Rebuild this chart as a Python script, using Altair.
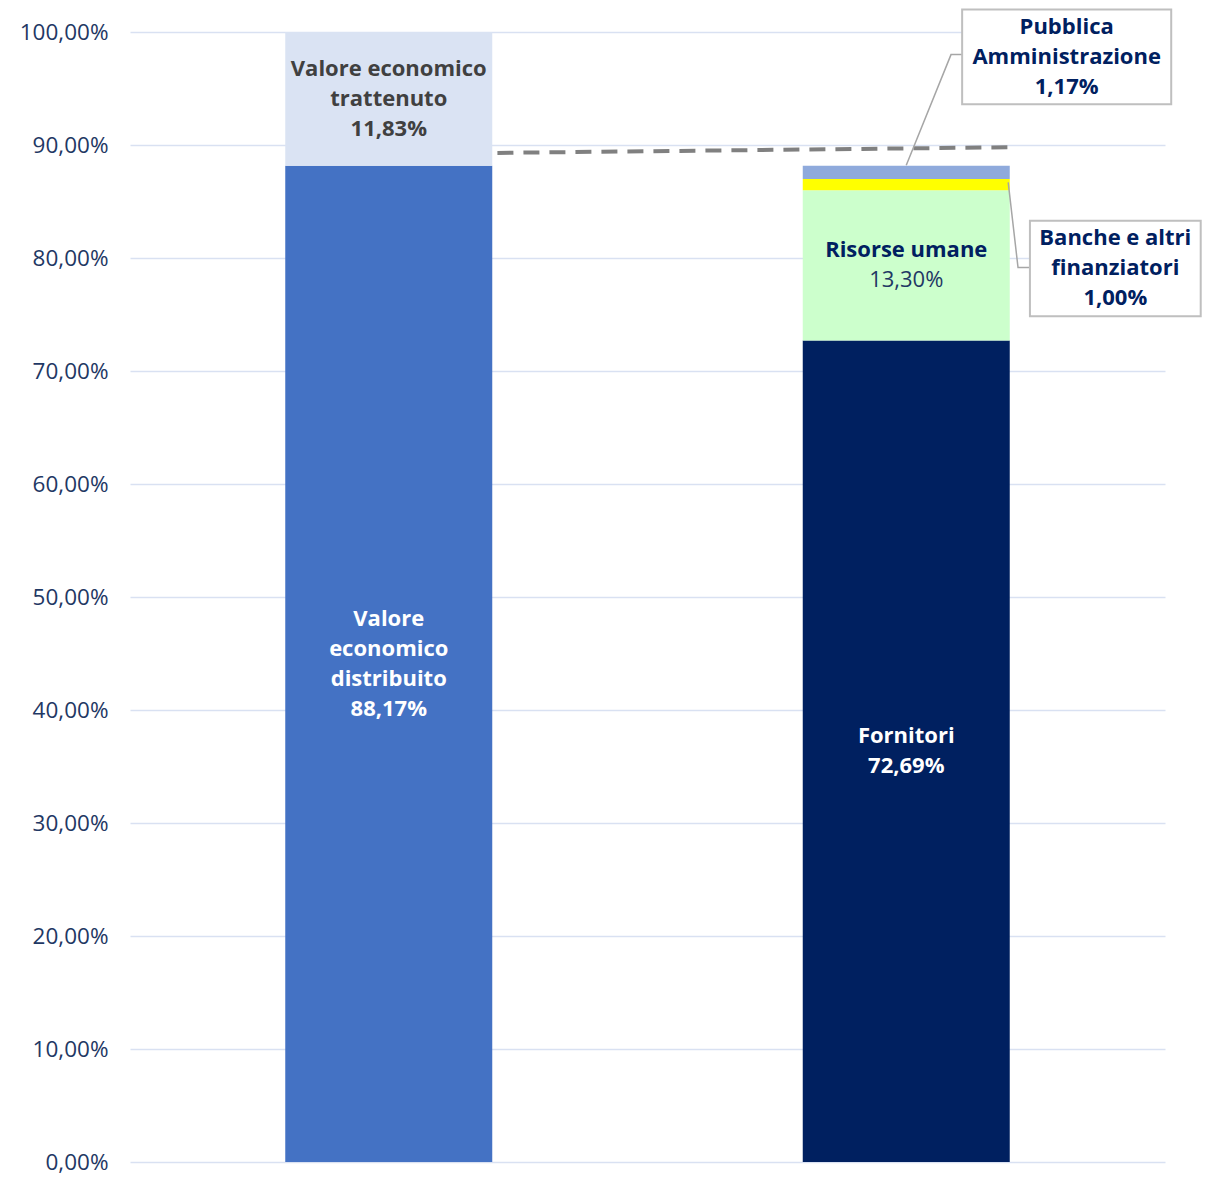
import altair as alt
import pandas as pd

# ---------------- data ----------------
bars = ["Generato", "Distribuito"]
seg_bar = ["Generato", "Generato", "Distribuito", "Distribuito", "Distribuito", "Distribuito"]
seg_name = ["Valore economico distribuito", "Valore economico trattenuto", "Fornitori",
            "Risorse umane", "Banche e altri finanziatori", "Pubblica Amministrazione"]
seg_value = [88.17, 11.83, 72.69, 13.30, 1.00, 1.17]
seg_color = ["#4472C4", "#DAE3F3", "#002060", "#CCFFCC", "#FFFF00", "#8FAADC"]

# labels drawn inside the bars: name lines, name colour, value colour, value weight
in_label = {
    "Valore economico distribuito": ("Valore\neconomico\ndistribuito", "#FFFFFF", "#FFFFFF", "bold"),
    "Valore economico trattenuto": ("Valore economico\ntrattenuto", "#404040", "#404040", "bold"),
    "Fornitori": ("Fornitori", "#FFFFFF", "#FFFFFF", "bold"),
    "Risorse umane": ("Risorse umane", "#002060", "#1F3864", "normal"),
}

# call-out boxes (annotation space: x 0..2 over the plot width, y in %)
call_seg = ["Pubblica Amministrazione", "Banche e altri finanziatori"]
call_text = ["Pubblica\nAmministrazione", "Banche e altri\nfinanziatori"]
box_x1 = [1.608, 1.739]
box_x2 = [2.012, 2.069]
box_y1 = [93.6, 74.85]
box_y2 = [102.0, 83.3]

leader_id = [0, 0, 0, 1, 1, 1]
leader_x = [1.50, 1.5865, 1.608, 1.697, 1.716, 1.739]
leader_y = [88.2, 98.0, 98.0, 86.7, 79.15, 79.15]

dash_x = [0.71, 1.70]
dash_y = [89.3, 89.8]

FONT = "Open Sans"
NAVY = "#1F3864"
FS = 22
LH = 30


def pct(v):
    return f"{v:.2f}".replace(".", ",") + "%"


# ---------------- tables ----------------
df = pd.DataFrame({"bar": seg_bar, "name": seg_name, "value": seg_value,
                   "color": seg_color, "ord": list(range(len(seg_name)))})
df["top"] = df.groupby("bar")["value"].cumsum()
df["bottom"] = df["top"] - df["value"]
df["mid"] = (df["top"] + df["bottom"]) / 2
df["vlabel"] = [pct(v) for v in df["value"]]


def xband():
    return alt.X("bar:N", sort=bars, axis=None,
                 scale=alt.Scale(paddingInner=0.6, paddingOuter=0.3))


yscale = alt.Scale(domain=[0, 100], nice=False)

bar_layer = alt.Chart(df).mark_bar().encode(
    x=xband(),
    y=alt.Y("bottom:Q", scale=yscale,
            axis=alt.Axis(values=list(range(0, 101, 10)), title=None, domain=False, ticks=False,
                          labelExpr="replace(format(datum.value, '.2f'), '.', ',') + '%'",
                          labelFont=FONT, labelFontSize=22.5, labelColor=NAVY, labelPadding=22,
                          gridColor="#D9E1F2", gridWidth=1.5)),
    y2="top:Q",
    color=alt.Color("color:N", scale=None),
)

text_layers = []
for nm, (lines, ncol, vcol, vweight) in in_label.items():
    n = lines.count("\n") + 1
    sub = df[df["name"] == nm].assign(lines=lines)
    base = alt.Chart(sub)
    text_layers.append(base.mark_text(font=FONT, fontSize=FS, fontWeight="bold", color=ncol,
                                      lineBreak="\n", lineHeight=LH, baseline="middle",
                                      dy=-LH / 2 * n).encode(
        x=xband(), y=alt.Y("mid:Q", scale=yscale), text="lines:N"))
    text_layers.append(base.mark_text(font=FONT, fontSize=FS, fontWeight=vweight, color=vcol,
                                      baseline="middle", dy=LH / 2 * n).encode(
        x=xband(), y=alt.Y("mid:Q", scale=yscale), text="vlabel:N"))

bar_part = alt.layer(bar_layer, *text_layers)

# ---------------- annotations ----------------
xq = alt.Scale(domain=[0, 2], nice=False, zero=False)

dash_df = pd.DataFrame({"x": [dash_x[0]], "x2": [dash_x[1]], "y": [dash_y[0]], "y2": [dash_y[1]]})
dash = alt.Chart(dash_df).mark_rule(color="#808080", strokeWidth=4, strokeDash=[16, 10]).encode(
    x=alt.X("x:Q", scale=xq, axis=None), x2="x2:Q",
    y=alt.Y("y:Q", scale=yscale), y2="y2:Q")

lead_df = pd.DataFrame({"id": leader_id, "x": leader_x, "y": leader_y,
                        "o": list(range(len(leader_x)))})
leaders = alt.Chart(lead_df).mark_line(color="#A6A6A6", strokeWidth=1.5).encode(
    x=alt.X("x:Q", scale=xq, axis=None), y=alt.Y("y:Q", scale=yscale),
    detail="id:N", order="o:Q")

val_map = dict(zip(seg_name, seg_value))
box_df = pd.DataFrame({"x1": box_x1, "x2": box_x2, "y1": box_y1, "y2": box_y2,
                       "txt": [t + "\n" + pct(val_map[s]) for t, s in zip(call_text, call_seg)]})
box_df["xc"] = (box_df["x1"] + box_df["x2"]) / 2
box_df["yc"] = (box_df["y1"] + box_df["y2"]) / 2
boxes = alt.Chart(box_df).mark_rect(fill="white", stroke="#BFBFBF", strokeWidth=2).encode(
    x=alt.X("x1:Q", scale=xq, axis=None), x2="x2:Q",
    y=alt.Y("y1:Q", scale=yscale), y2="y2:Q")
box_text = alt.Chart(box_df).mark_text(font=FONT, fontSize=FS, fontWeight="bold", color="#002060",
                                       lineBreak="\n", lineHeight=LH, baseline="middle",
                                       dy=-LH).encode(
    x=alt.X("xc:Q", scale=xq, axis=None), y=alt.Y("yc:Q", scale=yscale), text="txt:N")

ann_part = alt.layer(dash, leaders, boxes, box_text)

chart = alt.layer(bar_part, ann_part).resolve_scale(x="independent").properties(
    width=1035, height=1130,
    autosize=alt.AutoSizeParams(type="none"),
    padding={"left": 122, "top": 24, "right": 38, "bottom": 13},
).configure_view(stroke=None)

chart.save("out.html", embed_options={"renderer": "svg", "actions": False})
